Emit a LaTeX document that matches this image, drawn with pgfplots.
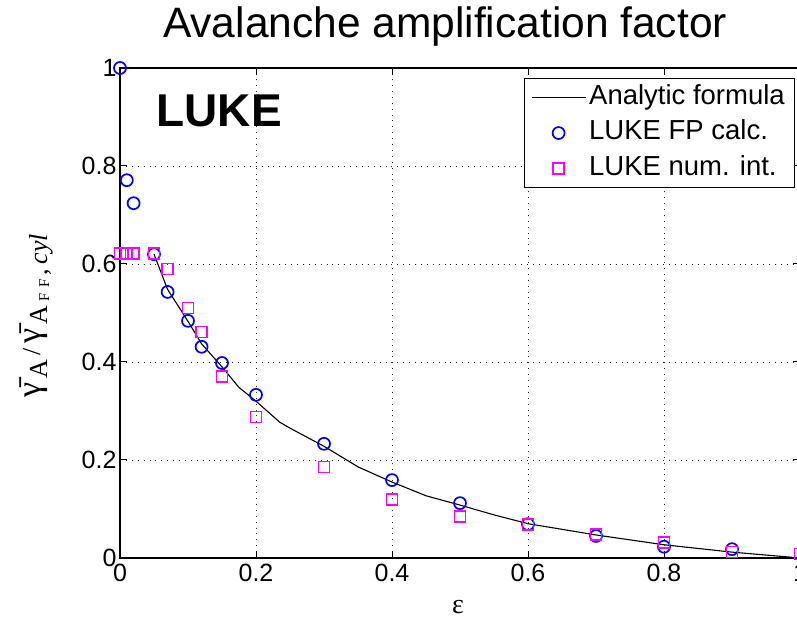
\documentclass[border=0pt]{standalone}
\usepackage{pgfplots}
\pgfplotsset{compat=1.18}
\usepackage{fontspec}
\setmainfont{Liberation Sans}
\newfontfamily\seriffont{Liberation Serif}
\definecolor{mblue}{RGB}{0,0,255}
\definecolor{mmag}{RGB}{255,0,255}
\pgfplotsset{
  lineleg/.style={legend image code/.code={\draw[##1] (0pt,0pt) -- (54pt,0pt);}},
  markleg/.style={legend image code/.code={\draw[##1, mark repeat=2, mark phase=2] plot coordinates {(0pt,0pt) (27pt,0pt) (54pt,0pt)};}},
}
\newcommand\gbar{{\fontsize{34}{38}\selectfont\={γ}}}

\begin{document}
\begin{tikzpicture}
\begin{axis}[
  at={(0pt,0pt)}, anchor=south west,
  scale only axis, width=680pt, height=490pt,
  xmin=0, xmax=1, ymin=0, ymax=1,
  xtick={0,0.2,0.4,0.6,0.8,1}, xticklabels={0,0.2,0.4,0.6,0.8,1},
  ytick={0,0.2,0.4,0.6,0.8,1}, yticklabels={0,0.2,0.4,0.6,0.8,1},
  clip=false,
  axis line style={black, line width=1.3pt},
  tick align=inside, major tick length=7pt,
  tick style={black, line width=1pt},
  grid=major,
  grid style={black!85, line width=0.9pt, dash pattern=on 0.9pt off 5pt},
  ticklabel style={font=\fontsize{25}{30}\selectfont},
  xticklabel style={yshift=-3pt},
  legend style={at={(rel axis cs:0.993,0.98)}, anchor=north east,
    draw=black, line width=0.9pt, fill=white,
    font=\fontsize{27.5}{32}\selectfont,
    inner xsep=7pt, inner ysep=2pt,
    nodes={inner xsep=3pt, inner ysep=5pt, text height=19.5pt, text depth=5.7pt}},
  legend cell align=left,
]
% analytic formula
\addplot[black, line width=1.1pt, lineleg]
coordinates {
  (0.05,0.620) (0.07,0.548) (0.10,0.483) (0.12,0.437) (0.15,0.390)
  (0.175,0.348) (0.20,0.320) (0.235,0.277) (0.25,0.265) (0.30,0.228)
  (0.35,0.186) (0.40,0.155) (0.45,0.127) (0.50,0.108) (0.55,0.088)
  (0.60,0.070) (0.70,0.047) (0.80,0.027) (0.90,0.012) (1.00,0.000)
};
\addlegendentry{Analytic formula}
% LUKE FP calc.
\addplot[only marks, mark=o, mark size=6pt, draw=mblue, line width=1.7pt, markleg]
coordinates {
  (0,1.0) (0.01,0.771) (0.02,0.724) (0.05,0.620) (0.07,0.543)
  (0.10,0.484) (0.12,0.431) (0.15,0.398) (0.20,0.333) (0.30,0.233)
  (0.40,0.159) (0.50,0.112) (0.60,0.069) (0.70,0.045) (0.80,0.023)
  (0.90,0.018)
};
\addlegendentry{LUKE FP calc.}
% LUKE num. int.
\addplot[only marks, mark=square, mark size=5.5pt, draw=mmag, line width=1.7pt, markleg]
coordinates {
  (0,0.622) (0.01,0.622) (0.02,0.622) (0.05,0.622) (0.07,0.590)
  (0.10,0.510) (0.12,0.461) (0.15,0.371) (0.20,0.288) (0.30,0.186)
  (0.40,0.120) (0.50,0.084) (0.60,0.069) (0.70,0.048) (0.80,0.031)
  (0.90,0.012) (1.00,0.008)
};
\addlegendentry{LUKE num. int.}

\node[font=\bfseries\fontsize{46}{55}\selectfont] at (rel axis cs:0.146,0.912) {LUKE};
\node[anchor=base, yshift=30pt, font=\fontsize{42.5}{50}\selectfont] at (rel axis cs:0.478,1) {Avalanche amplification factor};
\node[font=\seriffont\fontsize{28}{32}\selectfont] at (rel axis cs:0.497,-0.1) {ε};
\node[rotate=90, font=\seriffont\fontsize{26}{30}\selectfont] at (rel axis cs:-0.1235,0.494)
  {\gbar\,\raisebox{-7pt}{A}\,/\,\gbar\,\raisebox{-7pt}{A\,\raisebox{-2pt}{\fontsize{15}{17}\selectfont F\,\,F}\,,\,\itshape cyl}};
\end{axis}
\pgfresetboundingbox
\path[use as bounding box] (-120pt,-62pt) rectangle (677pt,558pt);
\end{tikzpicture}
\end{document}
